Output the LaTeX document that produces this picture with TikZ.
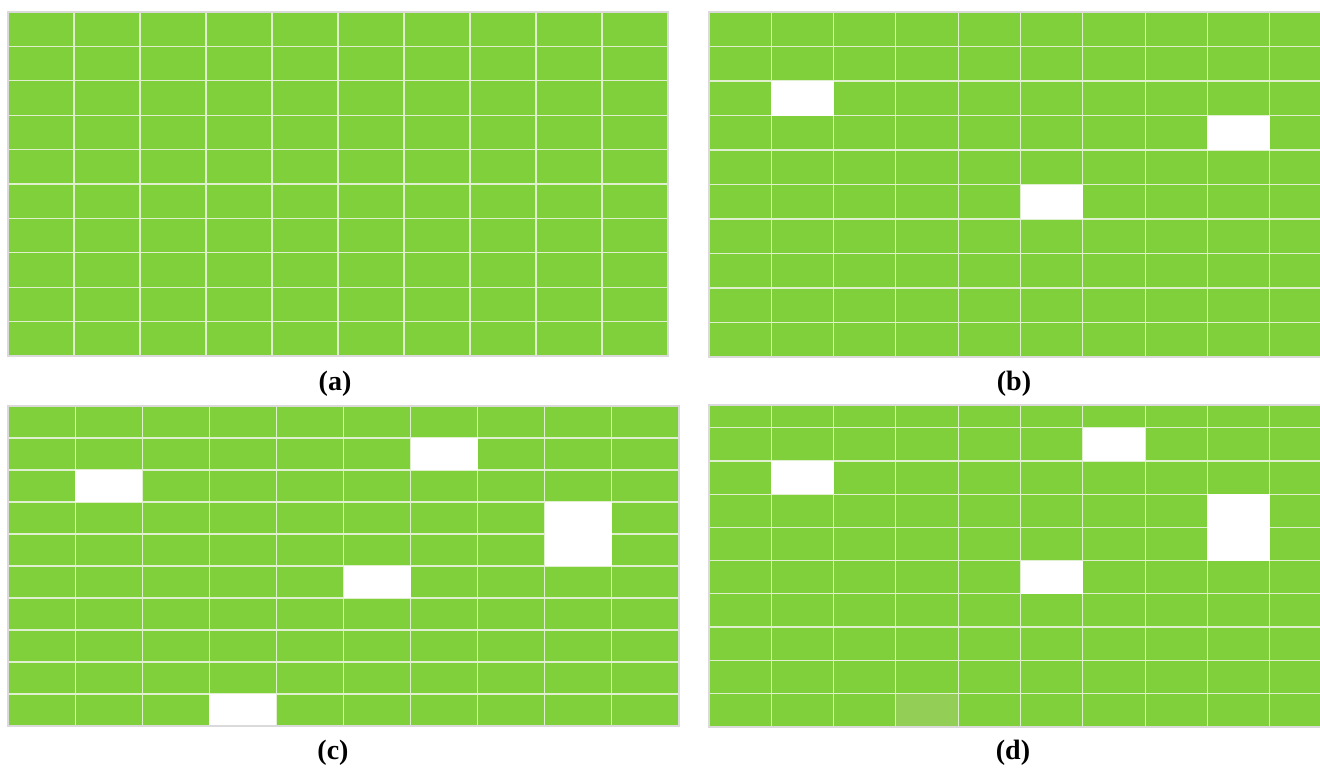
\documentclass[tikz,border=0pt]{standalone}
\usepackage{fontspec}
\setmainfont{Liberation Serif}
\usetikzlibrary{positioning}
\definecolor{leaf}{RGB}{128,208,60}
\definecolor{paleleaf}{RGB}{147,207,86}
\definecolor{gridline}{RGB}{222,240,206}
\definecolor{rim}{RGB}{218,218,218}
\tikzstyle{field} = [fill=leaf]
\tikzstyle{gap} = [fill=white]
\tikzstyle{fade} = [fill=paleleaf]
\tikzstyle{seam} = [draw=gridline, line width=1.1pt]
\tikzstyle{frame} = [draw=rim, line width=1.2pt]
\tikzstyle{caption} = [font=\bfseries\fontsize{28}{32}\selectfont, inner sep=0pt]

\begin{document}
\begin{tikzpicture}[x=1pt, y=-1pt]
    \useasboundingbox (0,0) rectangle (1320,771);

    % Panel a: full field
    \fill [field] (8,12) rectangle (668,356);
    \foreach \i in {1,...,9} {
        \draw [seam] (8+66*\i,12) -- (8+66*\i,356);
        \draw [seam] (8,12+34.4*\i) -- (668,12+34.4*\i);
    }
    \draw [frame] (8,12) rectangle (668,356);

    % Panel b: three gaps
    \fill [field] (709,12) rectangle (1332,357);
    \foreach \i in {1,...,9} {
        \draw [seam] (709+62.3*\i,12) -- (709+62.3*\i,357);
        \draw [seam] (709,12+34.5*\i) -- (1332,12+34.5*\i);
    }
    \foreach \c/\r in {1/2, 8/3, 5/5}
        \fill [gap] (709+62.3*\c,12+34.5*\r) rectangle (709+62.3*\c+62.3,12+34.5*\r+34.5);
    \draw [frame] (709,12) rectangle (1332,357);

    % Panel c: five gaps
    \fill [field] (8,406) rectangle (679,726);
    \foreach \i in {1,...,9} {
        \draw [seam] (8+67.1*\i,406) -- (8+67.1*\i,726);
        \draw [seam] (8,406+32*\i) -- (679,406+32*\i);
    }
    \foreach \c/\r/\n in {1/2/1, 6/1/1, 8/3/2, 5/5/1, 3/9/1}
        \fill [gap] (8+67.1*\c,406+32*\r) rectangle (8+67.1*\c+67.1,406+32*\r+32*\n);
    \draw [frame] (8,406) rectangle (679,726);

    % Panel d: four gaps and one faded cell
    \fill [field] (709,405) rectangle (1332,727);
    \fill [fade] (709+62.3*3,427.8+33.2*8) rectangle (709+62.3*4,727);
    \foreach \i in {1,...,9} {
        \draw [seam] (709+62.3*\i,405) -- (709+62.3*\i,727);
        \draw [seam] (709,394.6+33.2*\i) -- (1332,394.6+33.2*\i);
    }
    \foreach \c/\r/\n in {1/2/1, 6/1/1, 8/3/2, 5/5/1}
        \fill [gap] (709+62.3*\c,394.6+33.2*\r) rectangle (709+62.3*\c+62.3,394.6+33.2*\r+33.2*\n);
    \draw [frame] (709,405) rectangle (1332,727);

    % Captions
    \node [caption] (capa) at (335,384) {(a)};
    \node [caption] (capb) at (1014,384) {(b)};
    \node [caption] (capc) at (333,753) {(c)};
    \node [caption] (capd) at (1013,753) {(d)};
\end{tikzpicture}
\end{document}
